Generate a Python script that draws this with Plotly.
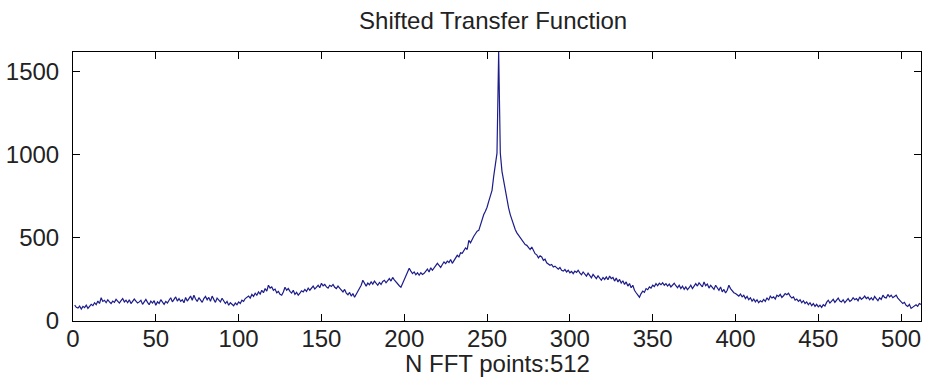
import numpy as np
import plotly.graph_objects as go

# Magnitude of shifted transfer function (bins 1..512)
mag_bins_001_128 = [
    95, 82, 78, 90, 72, 88, 80, 95, 76, 85, 100, 92, 110, 98, 120, 105,
    140, 118, 125, 110, 128, 115, 105, 120, 112, 130, 118, 108, 122, 135, 115, 125,
    110, 128, 105, 118, 132, 120, 108, 115, 125, 100, 118, 130, 112, 98, 120, 108,
    122, 95, 115, 105, 128, 112, 100, 118, 108, 125, 140, 115, 130, 145, 120, 135,
    118, 128, 110, 142, 120, 135, 150, 125, 155, 132, 118, 140, 125, 112, 135, 148,
    128, 142, 118, 150, 130, 112, 138, 125, 115, 137, 120, 105, 118, 95, 110, 100,
    92, 108, 98, 115, 105, 125, 118, 135, 142, 150, 138, 160, 148, 167, 155, 175,
    162, 185, 170, 195, 180, 215, 198, 205, 185, 192, 170, 178, 160, 155, 175, 203,
]
mag_bins_129_256 = [
    185, 195, 178, 168, 185, 160, 172, 155, 168, 182, 175, 190, 178, 198, 185, 197,
    210, 192, 205, 215, 200, 227, 212, 220, 205, 198, 215, 208, 220, 203, 195, 210,
    198, 185, 175, 190, 168, 158, 172, 150, 165, 143, 160, 178, 195, 215, 245, 225,
    210, 228, 218, 235, 222, 240, 228, 215, 232, 220, 238, 245, 230, 245, 255, 240,
    262, 248, 235, 220, 212, 203, 225, 245, 263, 290, 317, 300, 285, 295, 278, 290,
    275, 290, 280, 287, 300, 312, 295, 320, 305, 318, 330, 347, 335, 322, 340, 355,
    345, 360, 352, 370, 347, 365, 380, 395, 385, 410, 407, 425, 440, 430, 485, 470,
    495, 510, 525, 540, 545, 580, 610, 640, 660, 684, 720, 760, 786, 870, 940, 1010,
]
mag_bins_257_384 = [
    1618, 1010, 900, 846, 780, 720, 680, 640, 605, 575, 550, 530, 515, 503, 490, 470,
    460, 455, 445, 430, 445, 420, 405, 398, 380, 392, 385, 365, 372, 350, 345, 335,
    340, 325, 330, 318, 312, 322, 305, 300, 310, 295, 305, 290, 298, 285, 300, 292,
    305, 290, 278, 295, 282, 270, 288, 275, 260, 280, 268, 255, 272, 258, 245, 262,
    250, 265, 248, 270, 255, 262, 240, 258, 235, 250, 228, 242, 220, 235, 210, 225,
    200, 215, 185, 170, 158, 143, 165, 180, 172, 195, 188, 205, 198, 215, 207, 225,
    212, 227, 218, 230, 215, 225, 210, 222, 205, 218, 227, 212, 200, 215, 195, 210,
    190, 205, 188, 200, 215, 195, 208, 225, 210, 230, 218, 205, 235, 212, 222, 198,
]
mag_bins_385_512 = [
    215, 205, 190, 215, 198, 185, 205, 175, 190, 168, 185, 215, 195, 180, 170, 165,
    158, 150, 162, 145, 155, 135, 148, 128, 140, 120, 132, 115, 128, 110, 122, 115,
    130, 118, 140, 125, 150, 138, 145, 132, 155, 148, 160, 142, 152, 165, 158, 167,
    150, 138, 145, 125, 132, 118, 128, 110, 122, 105, 115, 98, 110, 92, 105, 88,
    100, 85, 95, 82, 98, 90, 112, 125, 108, 118, 130, 112, 125, 138, 120, 115,
    128, 110, 122, 135, 118, 125, 140, 128, 135, 122, 145, 130, 138, 150, 135, 143,
    128, 140, 125, 148, 135, 122, 140, 130, 155, 142, 138, 160, 145, 155, 140, 148,
    155, 138, 125, 118, 105, 112, 95, 88, 100, 76, 85, 92, 98, 88, 105, 100,
]

x_ticks = [0, 50, 100, 150, 200, 250, 300, 350, 400, 450, 500]
y_ticks = [0, 500, 1000, 1500]
title_text = "Shifted Transfer Function"
xlabel_text = "N FFT points:512"

mag = mag_bins_001_128 + mag_bins_129_256 + mag_bins_257_384 + mag_bins_385_512
n = len(mag)
x = np.arange(1, n + 1)

FONT = "Liberation Sans, Arial, sans-serif"

fig = go.Figure()
fig.add_trace(go.Scatter(
    x=x, y=mag, mode="lines",
    line=dict(color="#1c1c8a", width=1.2),
    showlegend=False, hoverinfo="skip",
))

axis_common = dict(
    showline=True, linecolor="black", linewidth=1, mirror="allticks",
    ticks="inside", ticklen=7, tickwidth=1, tickcolor="black",
    showgrid=False, zeroline=False,
    tickfont=dict(family=FONT, size=24, color="#222222"),
)

fig.update_layout(
    width=927, height=391,
    margin=dict(l=73, r=6, t=52, b=70),
    paper_bgcolor="white", plot_bgcolor="white",
    title=dict(text=title_text, x=0.532, xanchor="center",
               y=1 - 21 / 391, yanchor="middle",
               font=dict(family=FONT, size=24, color="#222222")),
    xaxis=dict(range=[0, n], tickvals=x_ticks, ticklabelstandoff=-4, **axis_common),
    yaxis=dict(range=[0, max(mag)], tickvals=y_ticks, ticklabelstandoff=8, **axis_common),
    annotations=[dict(
        text=xlabel_text, xref="paper", yref="paper", x=0.5, y=0,
        xanchor="center", yanchor="top", yshift=-27, showarrow=False,
        font=dict(family=FONT, size=24, color="#222222"),
    )],
)

fig.write_html("out.html")
